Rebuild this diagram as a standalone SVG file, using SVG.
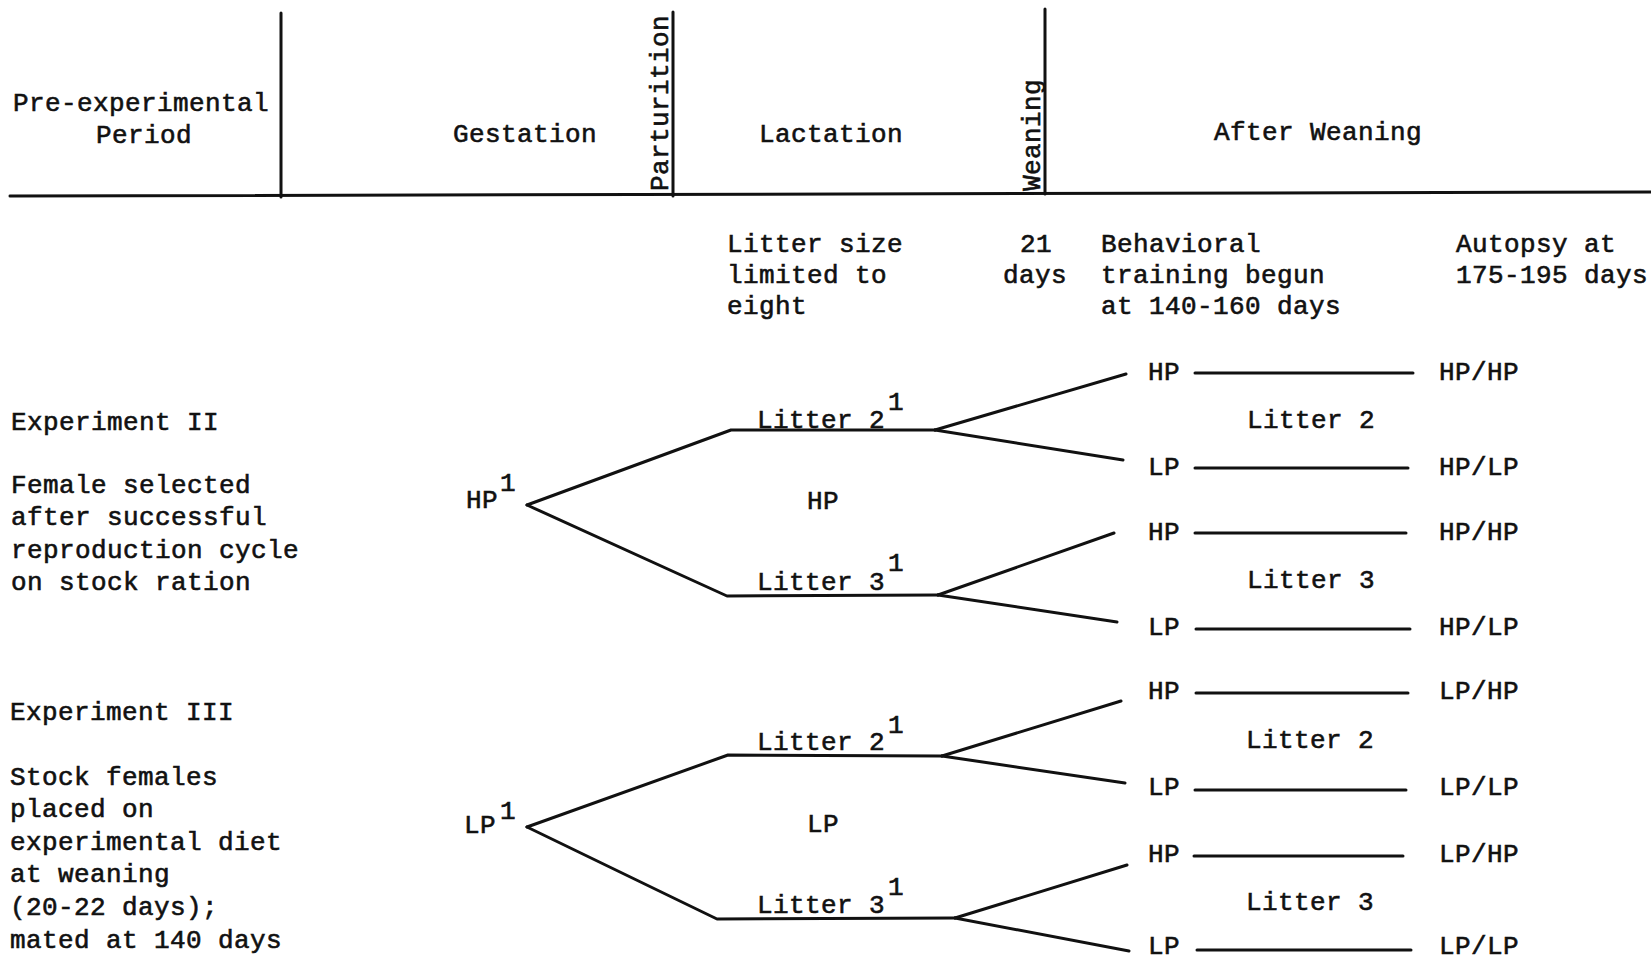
<svg xmlns="http://www.w3.org/2000/svg" width="1651" height="962" viewBox="0 0 1651 962">
<style>
text{font-family:"Liberation Mono","DejaVu Sans Mono",monospace;font-size:26px;letter-spacing:0.4px;fill:#111;stroke:#111;stroke-width:0.6px}
.ln{stroke:#111;stroke-width:3;fill:none;stroke-linecap:round;stroke-linejoin:round}
</style>
<rect width="1651" height="962" fill="#fff"/>
<g id="connectors" class="ln">
<path d="M10 196 L1651 192"/>
<path d="M281 13 L281 197"/>
<path d="M673 12 L673 196"/>
<path d="M1045 9 L1045 194"/>
<path d="M527 505 L731 430 L935 430"/>
<path d="M935 430 L1126 374"/>
<path d="M935 430 L1123 460"/>
<path d="M527 505 L727 596 L938 595"/>
<path d="M938 595 L1114 533"/>
<path d="M938 595 L1117 622"/>
<path d="M1195 373 L1413 373"/>
<path d="M1195 468 L1408 468"/>
<path d="M1195 533 L1406 533"/>
<path d="M1196 629 L1410 629"/>
<path d="M527 827 L728 755 L942 756"/>
<path d="M942 756 L1121 701"/>
<path d="M942 756 L1125 783"/>
<path d="M527 827 L717 919 L955 918"/>
<path d="M955 918 L1127 865"/>
<path d="M955 918 L1129 951"/>
<path d="M1196 693 L1408 693"/>
<path d="M1195 790 L1406 790"/>
<path d="M1194 856 L1403 856"/>
<path d="M1197 950 L1411 950"/>
</g>
<g id="header">
<text x="13" y="111">Pre-experimental</text>
<text x="96" y="143">Period</text>
<text x="453" y="142">Gestation</text>
<text transform="translate(668 191) rotate(-90)" x="0" y="0">Parturition</text>
<text x="759" y="142">Lactation</text>
<text transform="translate(1040 191) rotate(-90)" x="0" y="0">Weaning</text>
<text x="1214" y="140">After Weaning</text>
</g>
<g id="timeline-notes">
<text x="727" y="252">Litter size</text>
<text x="727" y="283">limited to</text>
<text x="727" y="314">eight</text>
<text x="1020" y="252">21</text>
<text x="1003" y="283">days</text>
<text x="1101" y="252">Behavioral</text>
<text x="1101" y="283">training begun</text>
<text x="1101" y="314">at 140-160 days</text>
<text x="1456" y="252">Autopsy at</text>
<text x="1456" y="283">175-195 days</text>
</g>
<g id="exp2-desc">
<text x="11" y="430">Experiment II</text>
<text x="11" y="493">Female selected</text>
<text x="11" y="525">after successful</text>
<text x="11" y="558">reproduction cycle</text>
<text x="11" y="590">on stock ration</text>
</g>
<g id="exp2-mother"><text x="466" y="508">HP</text><text x="500" y="491">1</text></g>
<g id="exp2-litter2"><text x="757" y="428">Litter 2</text><text x="888" y="410">1</text></g>
<g id="exp2-diet"><text x="807" y="509">HP</text></g>
<g id="exp2-litter3"><text x="757" y="590">Litter 3</text><text x="888" y="571">1</text></g>
<g id="exp2-outcomes">
<text x="1148" y="380">HP</text><text x="1439" y="380">HP/HP</text>
<text x="1247" y="428">Litter 2</text>
<text x="1148" y="475">LP</text><text x="1439" y="475">HP/LP</text>
<text x="1148" y="540">HP</text><text x="1439" y="540">HP/HP</text>
<text x="1247" y="588">Litter 3</text>
<text x="1148" y="635">LP</text><text x="1439" y="635">HP/LP</text>
</g>
<g id="exp3-desc">
<text x="10" y="720">Experiment III</text>
<text x="10" y="785">Stock females</text>
<text x="10" y="817">placed on</text>
<text x="10" y="850">experimental diet</text>
<text x="10" y="882">at weaning</text>
<text x="10" y="915">(20-22 days);</text>
<text x="10" y="948">mated at 140 days</text>
</g>
<g id="exp3-mother"><text x="464" y="833">LP</text><text x="500" y="819">1</text></g>
<g id="exp3-litter2"><text x="757" y="750">Litter 2</text><text x="888" y="733">1</text></g>
<g id="exp3-diet"><text x="807" y="832">LP</text></g>
<g id="exp3-litter3"><text x="757" y="913">Litter 3</text><text x="888" y="895">1</text></g>
<g id="exp3-outcomes">
<text x="1148" y="699">HP</text><text x="1439" y="699">LP/HP</text>
<text x="1246" y="748">Litter 2</text>
<text x="1148" y="795">LP</text><text x="1439" y="795">LP/LP</text>
<text x="1148" y="862">HP</text><text x="1439" y="862">LP/HP</text>
<text x="1246" y="910">Litter 3</text>
<text x="1148" y="954">LP</text><text x="1439" y="954">LP/LP</text>
</g>
</svg>
